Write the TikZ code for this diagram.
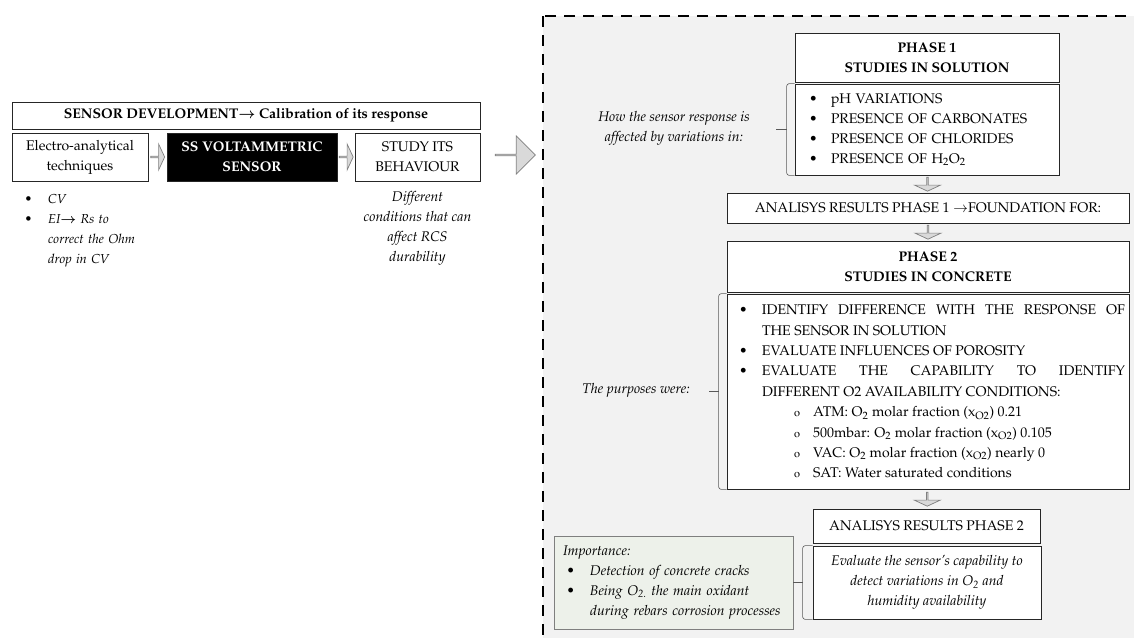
\documentclass[tikz,border=0pt]{standalone}
\usepackage[T1]{fontenc}
\usepackage{mathpazo}
\usepackage{xcolor}
\usepackage{tikz}
\usetikzlibrary{positioning,shapes.arrows,calc}

\definecolor{panelgray}{HTML}{F2F2F2}
\definecolor{arrowgray}{HTML}{D9D9D9}
\definecolor{edgegray}{HTML}{7F7F7F}
\definecolor{impgreen}{HTML}{EDF1EA}
\setlength{\parindent}{0pt}
% one list line: label offset, text offset, label, text
\newcommand{\li}[4]{\noindent\hangindent=#2\hangafter=1\makebox[#2][l]{\hspace{#1}#3}#4\par}
\newcommand{\subo}{{\fontsize{11}{11}\selectfont o}}

\begin{document}
\fontsize{14}{20}\selectfont
\begin{tikzpicture}[x=1pt,y=-1pt,
  box/.style={draw=black!85, fill=white, line width=0.7pt, inner sep=0pt, align=center},
  blk/.style={single arrow, draw=edgegray, fill=arrowgray, line width=0.7pt, inner sep=0pt,
    single arrow tip angle=130, single arrow head extend=6pt, minimum height=14pt, minimum width=26pt},
  bigblk/.style={single arrow, draw=edgegray, fill=arrowgray, line width=0.7pt, inner sep=0pt,
    single arrow head extend=9.5pt, minimum height=40pt, minimum width=38pt},
  brk/.style={draw=black!65, line width=0.6pt, rounded corners=2.5pt},
  note/.style={align=center, font=\fontsize{14}{20}\selectfont\itshape}]

\useasboundingbox (0,0) rectangle (1134,637);

% dashed panel
\begin{scope}
\clip (0,0) rectangle (1134,637);
\draw[fill=panelgray, line width=2.6pt, dash pattern=on 11pt off 8pt] (543,16) rectangle (1150,660);
\end{scope}

% sensor development
\node[box, font=\bfseries, minimum width=468pt, minimum height=27pt] (sensdev) at (246,115.5) {SENSOR DEVELOPMENT{\boldmath$\rightarrow$} Calibration of its response};
\node[box, minimum width=136pt, minimum height=48pt] (electro) at (80,157) {Electro-analytical\\techniques};
\node[box, fill=black, text=white, font=\bfseries, minimum width=170pt, minimum height=48pt] (sensor) at (252,157) {SS VOLTAMMETRIC\\SENSOR};
\node[box, minimum width=125pt, minimum height=48pt] (study) at (417.5,157) {STUDY ITS\\BEHAVIOUR};
\node[blk] (a1) at ($(electro.east)!0.5!(sensor.west)$) {};
\node[blk] (a2) at ($(sensor.east)!0.5!(study.west)$) {};
\node[bigblk] (a3) at (515,155) {};

\node[anchor=north west, inner sep=0pt, text width=140pt, align=left, font=\fontsize{13}{20}\selectfont\itshape] (cvlist) at (18,194)
  {\li{7pt}{30pt}{\textbullet}{CV}\li{7pt}{30pt}{\textbullet}{EI{\boldmath$\rightarrow$} Rs to\newline correct the Ohm\newline drop in CV}};
\node[note] (diffcond) at (417.5,228) {Different\\conditions that can\\affect RCS\\durability};

% phase 1
\node[box, font=\bfseries, minimum width=264pt, minimum height=49pt] (phase1) at (927,57.5) {PHASE 1\\STUDIES IN SOLUTION};
\node[box, text width=264pt, minimum height=91pt, align=left] (list1) at (927,129.5)
  {\li{14pt}{36pt}{\textbullet}{pH VARIATIONS}%
   \li{14pt}{36pt}{\textbullet}{PRESENCE OF CARBONATES}%
   \li{14pt}{36pt}{\textbullet}{PRESENCE OF CHLORIDES}%
   \li{14pt}{36pt}{\textbullet}{PRESENCE OF H\textsubscript{2}O\textsubscript{2}}};
\node[note] (howlbl) at (674,128) {How the sensor response is\\affected by variations in:};
\draw[brk] (list1.north west) -| ([xshift=-8pt]list1.west) |- (list1.south west);
\draw[brk] ([xshift=-8pt]list1.west) -- ++(-11,0);

\node[box, minimum width=402pt, minimum height=30pt] (ana1) at (928,208) {ANALISYS RESULTS PHASE 1 $\rightarrow$FOUNDATION FOR:};

% phase 2
\node[box, font=\bfseries, minimum width=402pt, minimum height=51pt] (phase2) at (928,266.5) {PHASE 2\\STUDIES IN CONCRETE};
\node[box, text width=394pt, inner xsep=4pt, minimum height=195pt, align=justify, font=\fontsize{14}{20.4}\selectfont] (list2) at (928,391.5)
  {\li{8pt}{31pt}{\textbullet}{IDENTIFY DIFFERENCE WITH THE RESPONSE OF\linebreak THE SENSOR IN SOLUTION}%
   \li{8pt}{31pt}{\textbullet}{EVALUATE INFLUENCES OF POROSITY}%
   \li{8pt}{31pt}{\textbullet}{EVALUATE THE CAPABILITY TO IDENTIFY\linebreak DIFFERENT O2 AVAILABILITY CONDITIONS:}%
   \li{63pt}{82pt}{\subo}{ATM: O\textsubscript{2} molar fraction (x\textsubscript{O2}) 0.21}%
   \li{63pt}{82pt}{\subo}{500mbar: O\textsubscript{2} molar fraction (x\textsubscript{O2}) 0.105}%
   \li{63pt}{82pt}{\subo}{VAC: O\textsubscript{2} molar fraction (x\textsubscript{O2}) nearly 0}%
   \li{63pt}{82pt}{\subo}{SAT: Water saturated conditions}};
\node[note] (purplbl) at (636,390) {The purposes were:};
\draw[brk] (list2.north west) -| ([xshift=-8pt]list2.west) |- (list2.south west);
\draw[brk] ([xshift=-8pt]list2.west) -- ++(-10,0);

\node[box, minimum width=227pt, minimum height=34pt] (ana2) at (926.5,526) {ANALISYS RESULTS PHASE 2};
\node[box, font=\fontsize{14}{20}\selectfont\itshape, minimum width=228pt, minimum height=73pt] (evalbox) at (927,582.5)
  {Evaluate the sensor's capability to\\detect variations in O\textsubscript{2} and\\humidity availability};
\node[box, fill=impgreen, draw=edgegray, text width=221pt, inner xsep=9pt, minimum height=93pt, align=left, font=\fontsize{14}{20}\selectfont\itshape] (imp) at (673.5,582.5)
  {Importance:\par
   \li{4pt}{27pt}{\textbullet}{Detection of concrete cracks}%
   \li{4pt}{27pt}{\textbullet}{Being O\textsubscript{2.} the main oxidant\newline during rebars corrosion processes}};
\draw[brk] (evalbox.north west) -| ([xshift=-10pt]evalbox.west) |- (evalbox.south west);
\draw[brk] (imp.east) -- ([xshift=-10pt]evalbox.west);

% block arrows down
\node[blk, shape border rotate=270] (d1) at ($(list1.south)!0.5!(ana1.north)$) {};
\node[blk, shape border rotate=270] (d2) at ($(ana1.south)!0.5!(phase2.north)$) {};
\node[blk, shape border rotate=270] (d3) at ($(list2.south)!0.5!(ana2.north)$) {};
\end{tikzpicture}
\end{document}
